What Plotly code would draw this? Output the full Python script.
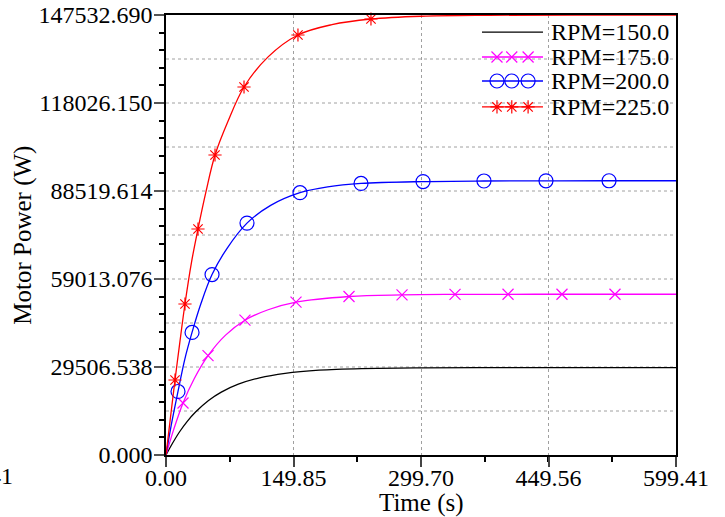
import plotly.graph_objects as go

# ---- data -------------------------------------------------------------
# motor power start-up curves (time in s, power in W)
t_150 = [0, 8, 16, 25, 35, 50, 65, 85, 110, 140, 180, 230, 300, 400, 500, 599.41]
p_150 = [0, 4100, 7800, 11300, 14500, 18300, 21100, 23750, 25900, 27400, 28450,
         28980, 29220, 29290, 29300, 29300]

t_175 = [0, 9, 20, 33, 49.4, 70, 92.8, 120, 152.8, 215.1, 277.4, 339.7, 402,
         465.4, 527.7, 599.41]
p_175 = [0, 8500, 17450, 25500, 33300, 40200, 45200, 48700, 51250, 53150, 53700,
         53850, 53890, 53900, 53900, 53900]
mk_175 = [2, 4, 6, 8, 9, 10, 11, 12, 13, 14]

t_200 = [0, 6, 14.1, 22, 30.6, 41, 54.1, 72, 95.2, 123, 157.5, 190, 229.2, 302.1,
         373.7, 446.6, 520.7, 599.41]
p_200 = [0, 9800, 21300, 32000, 41100, 50700, 60500, 69400, 77750, 83700, 87950,
         89900, 91050, 91680, 91880, 91930, 91950, 91950]
mk_200 = [2, 4, 6, 8, 10, 12, 13, 14, 15, 16]

t_225 = [0, 5, 10.6, 16, 22.3, 30, 37.6, 47, 57.6, 73, 91.7, 120, 155.1, 195,
         240.9, 300, 380, 480, 599.41]
p_225 = [0, 12000, 25150, 37200, 50630, 64700, 75780, 88300, 100590, 112000,
         123390, 133500, 140830, 144300, 146190, 147120, 147440, 147520, 147532.69]
mk_225 = [2, 4, 6, 8, 10, 12, 14]

series_names = ["RPM=150.0", "RPM=175.0", "RPM=200.0", "RPM=225.0"]

x_ticks = [0, 149.85, 299.70, 449.56, 599.41]
x_tick_labels = ["0.00", "149.85", "299.70", "449.56", "599.41"]
y_ticks = [0, 29506.538, 59013.076, 88519.614, 118026.150, 147532.690]
y_tick_labels = ["0.000", "29506.538", "59013.076", "88519.614", "118026.150",
                 "147532.690"]

# ---- styling ----------------------------------------------------------
FONT = "Liberation Serif"
FS = 24
FS_TITLE = 25
styles = [
    dict(color="#000000", symbol=None, size=0),
    dict(color="#ff00ff", symbol="x-thin-open", size=11),
    dict(color="#0000ff", symbol="circle-open", size=14),
    dict(color="#ff0000", symbol="asterisk-open", size=11),
]

curves = [(t_150, p_150, []), (t_175, p_175, mk_175),
          (t_200, p_200, mk_200), (t_225, p_225, mk_225)]

fig = go.Figure()

for (tt, pp, mk), st, name in zip(curves, styles, series_names):
    fig.add_trace(go.Scatter(
        x=tt, y=pp, mode="lines", name=name, showlegend=False,
        line=dict(color=st["color"], width=1.3, shape="spline", smoothing=1.0),
        hoverinfo="skip"))
    if mk:
        fig.add_trace(go.Scatter(
            x=[tt[i] for i in mk], y=[pp[i] for i in mk], mode="markers",
            showlegend=False, cliponaxis=False, hoverinfo="skip",
            marker=dict(symbol=st["symbol"], size=st["size"], color=st["color"],
                        line=dict(color=st["color"], width=1.2))))

# ---- hand-drawn key (fractions of the plotting area) -------------------
key_x0, key_x1 = 0.6196, 0.7392
key_marks = [0.649, 0.678, 0.710]
key_rows = [0.961, 0.9045, 0.850, 0.791]
key_text_x = 0.751
annotations = []
for st, name, ry in zip(styles, series_names, key_rows):
    fig.add_trace(go.Scatter(
        x=[key_x0, key_x1], y=[ry, ry], mode="lines", xaxis="x2", yaxis="y2",
        showlegend=False, hoverinfo="skip",
        line=dict(color=st["color"], width=1.3)))
    if st["symbol"]:
        fig.add_trace(go.Scatter(
            x=key_marks, y=[ry] * 3, mode="markers", xaxis="x2", yaxis="y2",
            showlegend=False, hoverinfo="skip", cliponaxis=False,
            marker=dict(symbol=st["symbol"], size=st["size"], color=st["color"],
                        line=dict(color=st["color"], width=1.2))))
    annotations.append(dict(
        x=key_text_x, y=ry, xref="paper", yref="paper", text=name,
        showarrow=False, xanchor="left", yanchor="middle",
        font=dict(family=FONT, size=FS, color="black")))

# axis titles
annotations.append(dict(
    x=-0.281, y=0.5, xref="paper", yref="paper", text="Motor Power (W)",
    textangle=-90, showarrow=False, xanchor="center", yanchor="middle",
    font=dict(family=FONT, size=FS_TITLE, color="black")))
annotations.append(dict(
    x=0.5, y=-0.109, xref="paper", yref="paper", text="Time (s)",
    showarrow=False, xanchor="center", yanchor="middle",
    font=dict(family=FONT, size=FS_TITLE, color="black")))
# stray clipped label at the far left of the time axis
annotations.append(dict(
    x=-0.296, y=-0.048, xref="paper", yref="paper", text="41",
    showarrow=False, xanchor="right", yanchor="middle",
    font=dict(family=FONT, size=FS, color="black")))

# dashed horizontal grid at half-label spacing
y_max = y_ticks[-1]
grid_step = (y_ticks[1] - y_ticks[0]) / 2
shapes = []
for k in range(1, 10):
    shapes.append(dict(
        type="line", xref="paper", yref="y", x0=0, x1=1,
        y0=k * grid_step, y1=k * grid_step, layer="below",
        line=dict(color="#a0a0a0", width=1, dash="3px,3px")))

fig.update_layout(
    width=725, height=517,
    margin=dict(l=166, r=49, t=15, b=62),
    paper_bgcolor="white", plot_bgcolor="white",
    showlegend=False,
    annotations=annotations,
    shapes=shapes,
    xaxis=dict(
        range=[0, x_ticks[-1]], tickmode="array", tickvals=x_ticks,
        ticktext=x_tick_labels, ticks="outside", ticklen=10, tickwidth=1.5,
        tickcolor="#444", showline=True, linecolor="black", linewidth=1.5,
        mirror=True, zeroline=False, showgrid=True, gridcolor="#a0a0a0",
        griddash="3px,3px", gridwidth=1, automargin=False,
        ticklabelstandoff=-10,
        tickfont=dict(family=FONT, size=FS, color="black"),
        minor=dict(dtick=(x_ticks[1] - x_ticks[0]) / 2, tick0=0,
                   ticks="outside", ticklen=5, tickcolor="black",
                   showgrid=False),
        fixedrange=True),
    yaxis=dict(
        range=[0, y_max], tickmode="array", tickvals=y_ticks,
        ticktext=y_tick_labels, ticks="outside", ticklen=10, tickwidth=2,
        tickcolor="#555", showline=True, linecolor="black", linewidth=1.5,
        mirror=True, zeroline=False, showgrid=False, automargin=False,
        ticklabelstandoff=-3,
        tickfont=dict(family=FONT, size=FS, color="black"),
        minor=dict(dtick=(y_ticks[1] - y_ticks[0]) / 5, tick0=0,
                   ticks="outside", ticklen=5, tickcolor="black",
                   showgrid=False),
        fixedrange=True),
    xaxis2=dict(overlaying="x", anchor="y2", range=[0, 1], visible=False,
                fixedrange=True),
    yaxis2=dict(overlaying="y", anchor="x2", range=[0, 1], visible=False,
                fixedrange=True),
)

fig.write_html("out.html")
